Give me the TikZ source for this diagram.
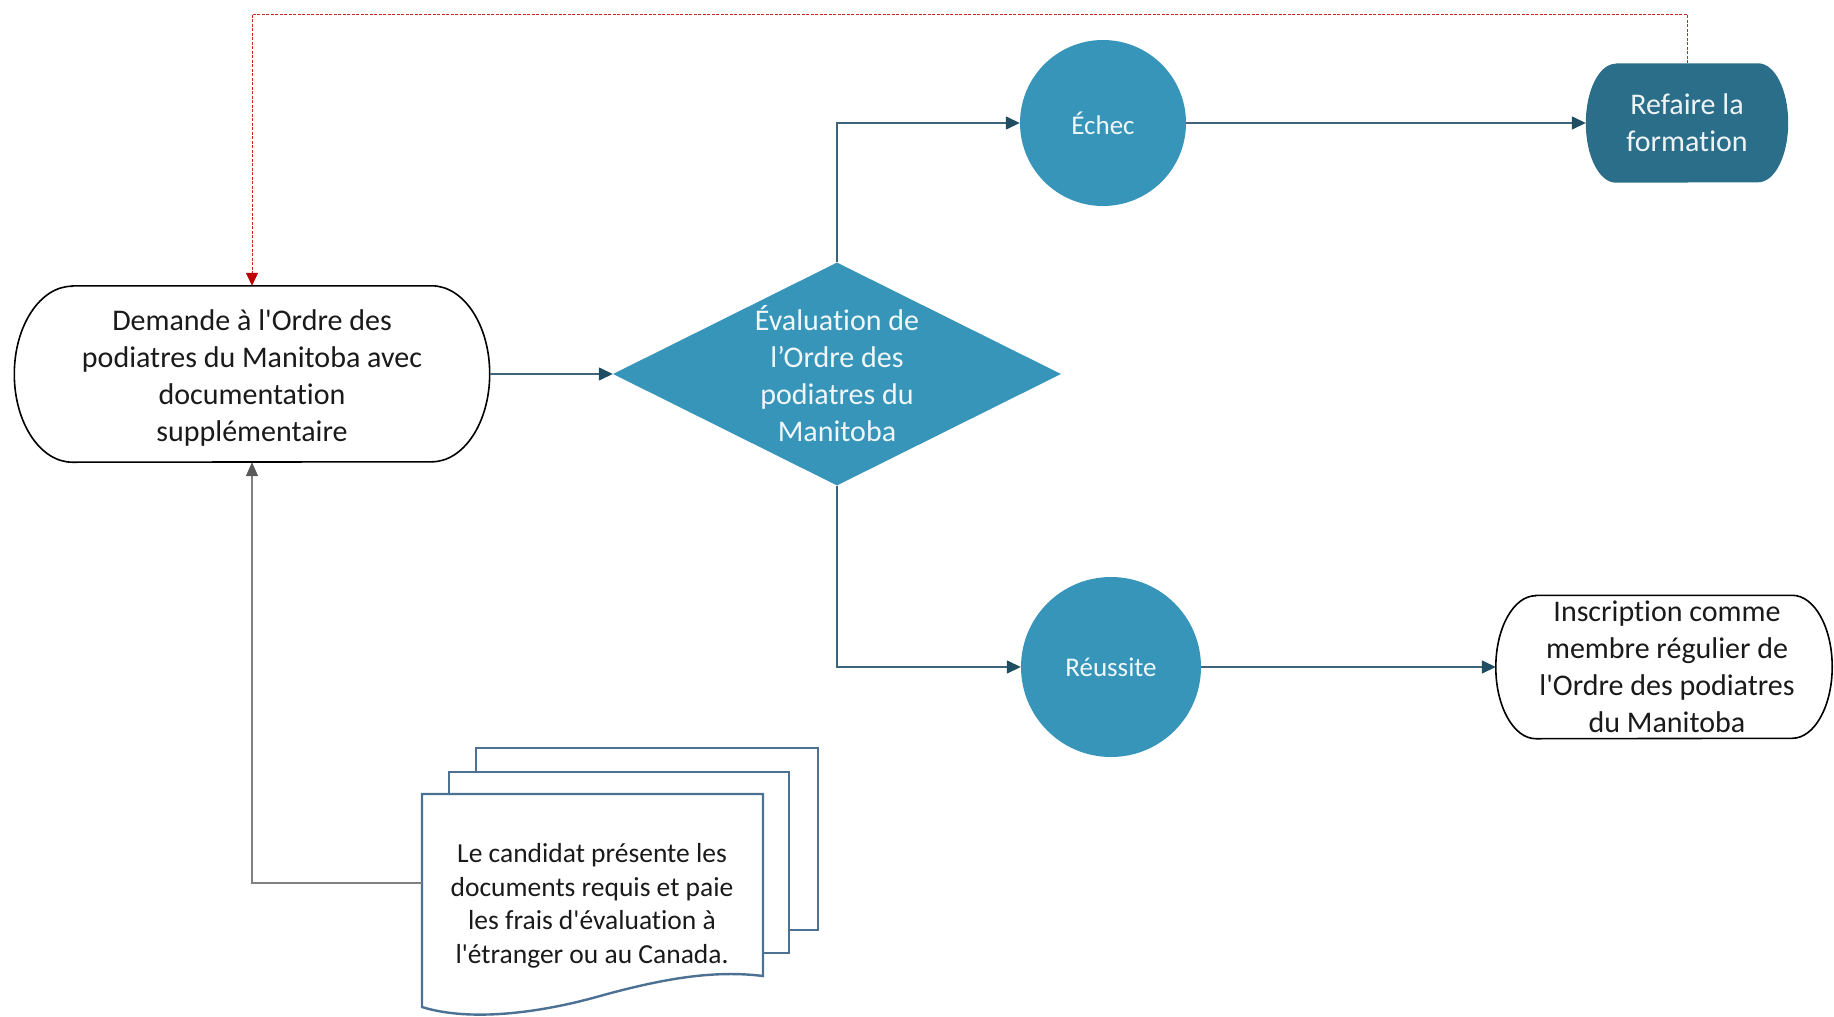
\documentclass[tikz,border=0pt]{standalone}
\usepackage{fontspec}
\setmainfont{Carlito}[Ligatures={TeXOff,CommonOff}]
\usetikzlibrary{shapes.geometric,shapes.misc,arrows.meta}
\definecolor{tealA}{HTML}{3795BA}
\definecolor{tealB}{HTML}{2A6E8A}
\definecolor{linec}{HTML}{3E6478}
\definecolor{tipc}{HTML}{1F4D62}
\definecolor{docc}{HTML}{4D7193}
\definecolor{redc}{HTML}{C00000}
\definecolor{grayc}{HTML}{808080}
\definecolor{graytip}{HTML}{595959}
\definecolor{txtc}{HTML}{1A1A1A}
\begin{document}
\begin{tikzpicture}[x=1pt,y=-1pt,
  big/.style={font=\fontsize{30}{37}\selectfont},
  mid/.style={font=\fontsize{27.5}{33.5}\selectfont},
  circtxt/.style={font=\fontsize{27}{32}\selectfont},
  box/.style={rectangle, inner sep=0pt},
  bubble/.style={circle, fill=tealA, inner sep=0pt, text=white!92!tealA, circtxt},
  outline/.style={draw=black, line width=1.6pt, fill=white},
  conn/.style={draw=linec, line width=1.4pt, -{Triangle[length=14pt,width=13pt,color=tipc]}},
  redconn/.style={draw=redc!85, line width=1pt, dash pattern=on 3pt off 1.5pt, -{Triangle[length=13pt,width=12pt,color=redc]}},
  grayconn/.style={draw=grayc, line width=1.4pt, -{Triangle[length=14pt,width=12pt,color=graytip]}},
  page/.style={draw=docc, line width=2.4pt, fill=white}
]
\useasboundingbox (0,0) rectangle (1834,1017);

% terminator outline with elliptical ends: #1 node, #2 x radius, #3 y radius
\newcommand\termpath[4][]{%
  \path[#1] ([xshift=#3]#2.north west) -- ([xshift=-#3]#2.north east)
    arc[start angle=90, end angle=-90, x radius=#3, y radius=#4]
    -- ([xshift=#3]#2.south west)
    arc[start angle=270, end angle=90, x radius=#3, y radius=#4] -- cycle;}

% Demande
\node[box, minimum width=475pt, minimum height=176pt] (dem) at (252,374) {};
\termpath[outline]{dem}{58pt}{88pt}
\node[big, align=center, text=txtc, inner sep=0pt] at ([yshift=-4pt]dem.center)
  {Demande à l'Ordre des\\podiatres du Manitoba avec\\documentation\\supplémentaire};

% Evaluation diamond
\node[diamond, fill=tealA, minimum width=448pt, minimum height=223pt, inner sep=0pt,
  label={[big,align=center,text=white!92!tealA]center:{Évaluation de\\l’Ordre des\\podiatres du\\Manitoba}}] (eval) at (837,374) {};

% Echec / Reussite
\node[bubble, minimum size=166pt] (ech) at (1103,123) {Échec};
\node[bubble, minimum size=180pt] (reu) at (1111,667) {Réussite};

% Refaire la formation
\node[box, minimum width=202pt, minimum height=119pt] (ref) at (1687,123) {};
\termpath[fill=tealB]{ref}{30pt}{59.5pt}
\node[big, align=center, text=white!92!tealB, inner sep=0pt] at (ref.center) {Refaire la\\formation};

% Inscription
\node[box, minimum width=336pt, minimum height=143pt] (ins) at (1664,667) {};
\termpath[outline]{ins}{40pt}{71.5pt}
\node[big, align=center, text=txtc, inner sep=0pt] at ([xshift=3pt]ins.center)
  {Inscription comme\\membre régulier de\\l'Ordre des podiatres\\du Manitoba};

% Documents (multi-page)
\draw[page] (476,748) rectangle (818,930);
\draw[page] (449,772) rectangle (789,953);
\draw[page] (422,794) -- (763,794) -- (763,976)
  .. controls (715,970) and (665,978) .. (600,996)
  .. controls (540,1013) and (470,1022) .. (422,1007) -- cycle;
\node[mid, align=center, text=txtc, inner sep=0pt] (docs) at (592,906)
  {Le candidat présente les\\documents requis et paie\\les frais d'évaluation à\\l'étranger ou au Canada.};

% Connectors
\draw[conn] (dem.east) -- (eval.west);
\draw[conn] (eval.north) |- (ech.west);
\draw[conn] (ech.east) -- (ref.west);
\draw[conn] (eval.south) |- (reu.west);
\draw[conn] (reu.east) -- (ins.west);

\coordinate (toprow) at (0,14);
\draw[redconn] (ref.north) -- (ref.north |- toprow) -| (dem.north);

\coordinate (docin) at (422,883);
\draw[grayconn] (docin) -| (dem.south);
\end{tikzpicture}
\end{document}
